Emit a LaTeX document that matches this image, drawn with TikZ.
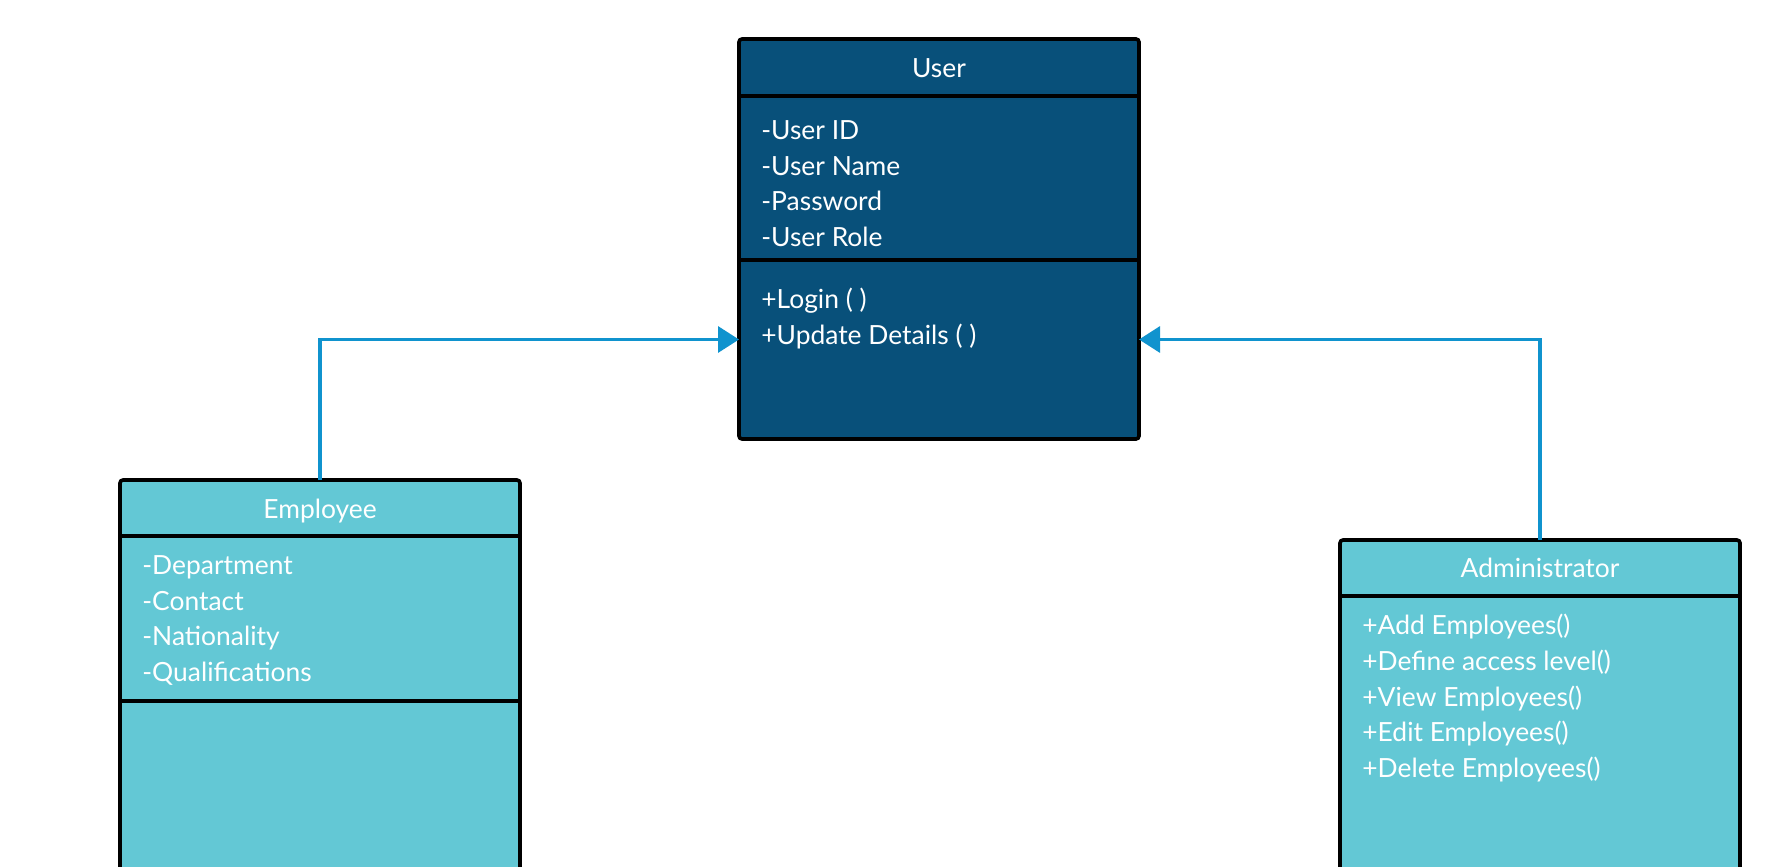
\documentclass[tikz,border=0pt]{standalone}
\usepackage{fontspec}
\setmainfont{Lato}
\usetikzlibrary{shapes,arrows,arrows.meta,positioning,calc}
\definecolor{darkblue}{RGB}{8,80,122}
\definecolor{lightteal}{RGB}{99,200,213}
\definecolor{linkblue}{RGB}{16,147,206}

\begin{document}
\begin{tikzpicture}[x=0.5pt,y=-0.5pt,
  umlbox/.style={rectangle,draw=black,line width=1.8pt,rounded corners=1.5pt,minimum width=200pt,minimum height=200pt,inner sep=0pt,outer sep=0pt,anchor=north west},
  classtitle/.style={text=white,font=\fontsize{13.2}{17.85}\selectfont,inner sep=0pt,anchor=base},
  members/.style={text=white,font=\fontsize{13.2}{17.85}\selectfont,align=left,inner sep=0pt,anchor=north west,execute at begin node=\strut},
  divider/.style={draw=black,line width=1.8pt},
  inherit/.style={draw=linkblue,line width=1.6pt,-{Triangle[length=10.5pt,width=13pt]}}]

  \useasboundingbox (0,0) rectangle (1780,866);
  \clip (0,0) rectangle (1780,866);
  \fill[white] (0,0) rectangle (1780,866);

  % class boxes
  \node[umlbox,fill=darkblue] (user) at (739,39) {};
  \node[umlbox,fill=lightteal] (employee) at (120,480) {};
  \node[umlbox,fill=lightteal] (admin) at (1340,540) {};

  % compartments
  \draw[divider] ($(user.north west)+(0,57)$) -- ($(user.north east)+(0,57)$);
  \draw[divider] ($(user.north west)+(0,221)$) -- ($(user.north east)+(0,221)$);
  \draw[divider] ($(employee.north west)+(0,56)$) -- ($(employee.north east)+(0,56)$);
  \draw[divider] ($(employee.north west)+(0,221)$) -- ($(employee.north east)+(0,221)$);
  \draw[divider] ($(admin.north west)+(0,56)$) -- ($(admin.north east)+(0,56)$);

  % titles
  \node[classtitle] (usertitle) at ($(user.north)+(0,39)$) {User};
  \node[classtitle] (emptitle) at ($(employee.north)+(0,38)$) {Employee};
  \node[classtitle] (admintitle) at ($(admin.north)+(0,37)$) {Administrator};

  % members
  \node[members] (userattr) at ($(user.north west)+(22,81)$) {-User ID\\-User Name\\-Password\\-User Role};
  \node[members] (userops) at ($(user.north west)+(22,249)$) {+Login ( )\\+Update Details ( )};
  \node[members] (empattr) at ($(employee.north west)+(22,75)$) {-Department\\-Contact\\-Nationality\\-Qualifications};
  \node[members] (adminops) at ($(admin.north west)+(22,74)$) {+Add Employees()\\+Define access level()\\+View Employees()\\+Edit Employees()\\+Delete Employees()};

  % generalisation
  \draw[inherit] (employee.north) |- ([yshift=-50.25pt]user.west);
  \draw[inherit] (admin.north) |- ([yshift=-50.25pt]user.east);

\end{tikzpicture}
\end{document}
